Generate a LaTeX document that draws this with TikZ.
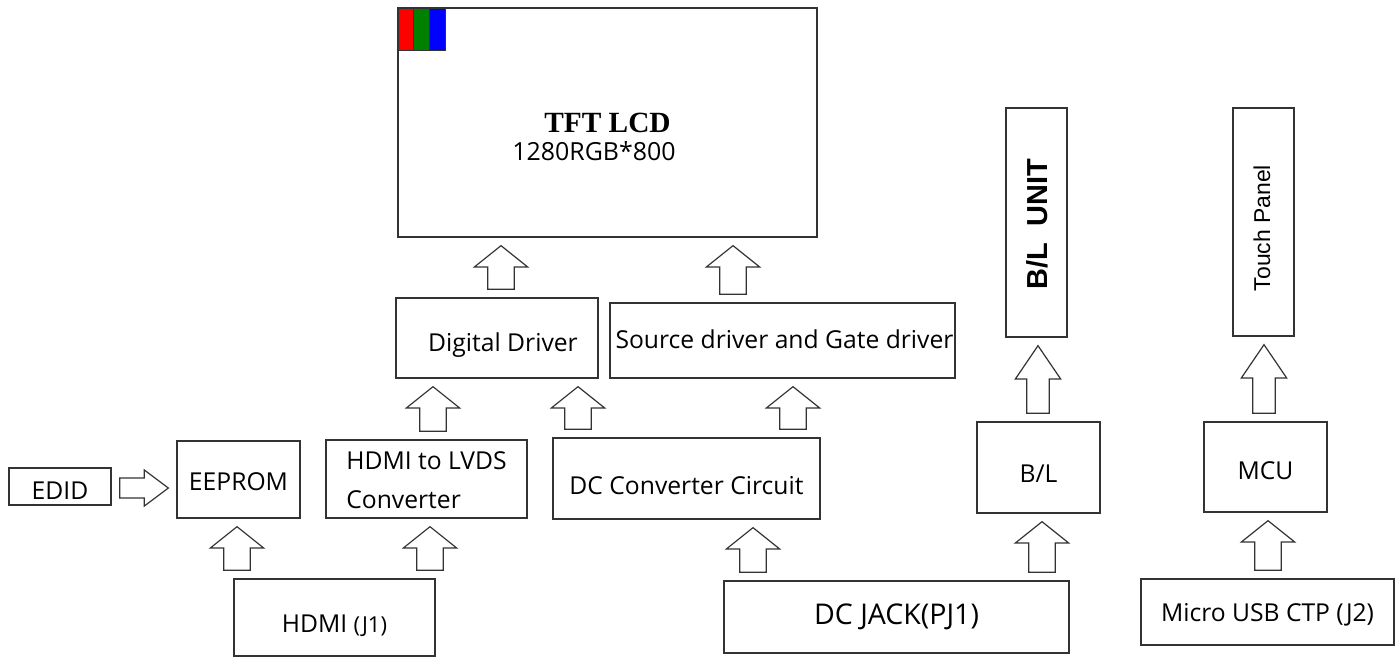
\documentclass[tikz,border=0pt]{standalone}
\usepackage{fontspec}
\setmainfont{Open Sans}
\newfontfamily\serifbold{Liberation Serif}
\newfontfamily\arialfont{Liberation Sans}
\usetikzlibrary{calc}
\definecolor{lcdgreen}{RGB}{0,128,0}
\newcommand\txtdown[2]{\raisebox{-#1}[\height][\depth]{#2}}
\tikzset{
    box/.style={
           draw=black!80, line width=1pt,
           inner sep=0pt, fill=white,
           font=\fontsize{18.5}{22}\selectfont,
           },
}
\tikzset{
    sz/.style 2 args={
           minimum width=#1*0.75pt,
           minimum height=#2*0.75pt,
           },
}
\tikzset{
    fat gap/.store in=\fatgap, fat head/.store in=\fathead,
    fat wide/.store in=\fatwide, fat shaft/.store in=\fatshaft,
    fat gap=6pt, fat head=16pt, fat wide=20pt, fat shaft=10pt,
    fat/.style={
           draw=black!80, line width=0.9pt,
           fill=white, line join=miter,
           to path={
             let \p1=(\tikztostart), \p2=(\tikztotarget),
                 \n1={atan2(\y2-\y1,\x2-\x1)},
                 \p3=($(\p1)+(\n1:\fatgap)$), \p4=($(\p2)-(\n1:\fatgap)$),
                 \n2={veclen(\x4-\x3,\y4-\y3)-\fathead}
             in ($(\p3)+(\n1+90:\fatshaft)$)
             -- ($(\p3)+(\n1:\n2)+(\n1+90:\fatshaft)$)
             -- ($(\p3)+(\n1:\n2)+(\n1+90:\fatwide)$)
             -- (\p4)
             -- ($(\p3)+(\n1:\n2)+(\n1-90:\fatwide)$)
             -- ($(\p3)+(\n1:\n2)+(\n1-90:\fatshaft)$)
             -- ($(\p3)+(\n1-90:\fatshaft)$) -- cycle
           },
           },
}
\tikzset{
    tall/.style={fat head=25pt, fat wide=17pt, fat shaft=8.5pt},
    side/.style={fat head=18pt, fat wide=13.5pt, fat shaft=7.5pt},
}

\begin{document}
\begin{tikzpicture}[x=0.75pt,y=-0.75pt]
\useasboundingbox (0,0) rectangle (1400,657);

% panel
\node[box,sz={419}{229},font=\serifbold\bfseries\fontsize{22}{26}\selectfont](lcd) at (607.5,122.5){TFT LCD};
\node[font=\fontsize{18.7}{22}\selectfont](res) at (594,151){1280RGB*800};
\draw[draw=black!80,fill=red] (398,8) rectangle (413,50);
\draw[draw=black!80,fill=lcdgreen] (413,8) rectangle (429,50);
\draw[draw=black!80,fill=blue] (429,8) rectangle (445,50);

% drivers
\node[box,sz={202}{80}](digital) at (497,338){\hspace{9pt}\txtdown{5pt}{Digital Driver}};
\node[box,sz={345}{75}](source) at (782.5,340.5){\hspace{3pt}\txtdown{-1pt}{Source driver and Gate driver}};
\node[box,sz={61}{229}](blunit) at (1036.5,222.5){};
\node[rotate=90,font=\arialfont\bfseries\fontsize{21.7}{25}\selectfont](blunittxt) at (1037,224){B/L\ \ UNIT};
\node[box,sz={61}{228}](touch) at (1263.5,222){};
\node[rotate=90,font=\arialfont\fontsize{17.2}{20}\selectfont](touchtxt) at (1262,228){Touch Panel};

% middle row
\node[box,sz={102}{37}](edid) at (60,486.5){\txtdown{3pt}{EDID}};
\node[box,sz={123}{77}](eeprom) at (238.5,479.5){\txtdown{1.5pt}{EEPROM}};
\node[box,sz={201}{78}](lvds) at (426.5,479){\txtdown{3pt}{\begin{tabular}{@{}l@{}}HDMI to LVDS\\[7pt]Converter\end{tabular}}};
\node[box,sz={267}{81}](dcconv) at (686.5,478.5){\txtdown{5pt}{DC Converter Circuit}};
\node[box,sz={123}{91}](bl) at (1038.5,467.5){\txtdown{4.5pt}{B/L}};
\node[box,sz={123}{90}](mcu) at (1265.5,467){\txtdown{3pt}{MCU}};

% connectors
\node[box,sz={201}{77}](hdmi) at (334.5,617.5){\txtdown{6pt}{HDMI {\fontsize{16.5}{19}\selectfont(J1)}}};
\node[box,sz={345}{72},font=\fontsize{21.4}{25}\selectfont](dcjack) at (896.5,617){DC JACK(PJ1)};
\node[box,sz={253}{66}](usb) at (1267.5,612){\txtdown{2pt}{Micro USB CTP (J2)}};

% arrows
\draw[fat] (501,0|-digital.north) to (501,0|-lcd.south);
\draw[fat] (733,0|-source.north) to (733,0|-lcd.south);
\draw[fat] (433,0|-lvds.north) to (433,0|-digital.south);
\draw[fat] (578,0|-dcconv.north) to (578,0|-digital.south);
\draw[fat] (793,0|-dcconv.north) to (793,0|-source.south);
\draw[fat,tall] (1038,0|-bl.north) to (1038,0|-blunit.south);
\draw[fat,tall] (1264,0|-mcu.north) to (1264,0|-touch.south);
\draw[fat] (237,0|-hdmi.north) to (237,0|-eeprom.south);
\draw[fat] (430,0|-hdmi.north) to (430,0|-lvds.south);
\draw[fat] (753,0|-dcjack.north) to (753,0|-dcconv.south);
\draw[fat] (1042,0|-dcjack.north) to (1042,0|-bl.south);
\draw[fat] (1268,0|-usb.north) to (1268,0|-mcu.south);
\draw[fat,side] (edid.east|-0,488) to (eeprom.west|-0,488);
\end{tikzpicture}
\end{document}
